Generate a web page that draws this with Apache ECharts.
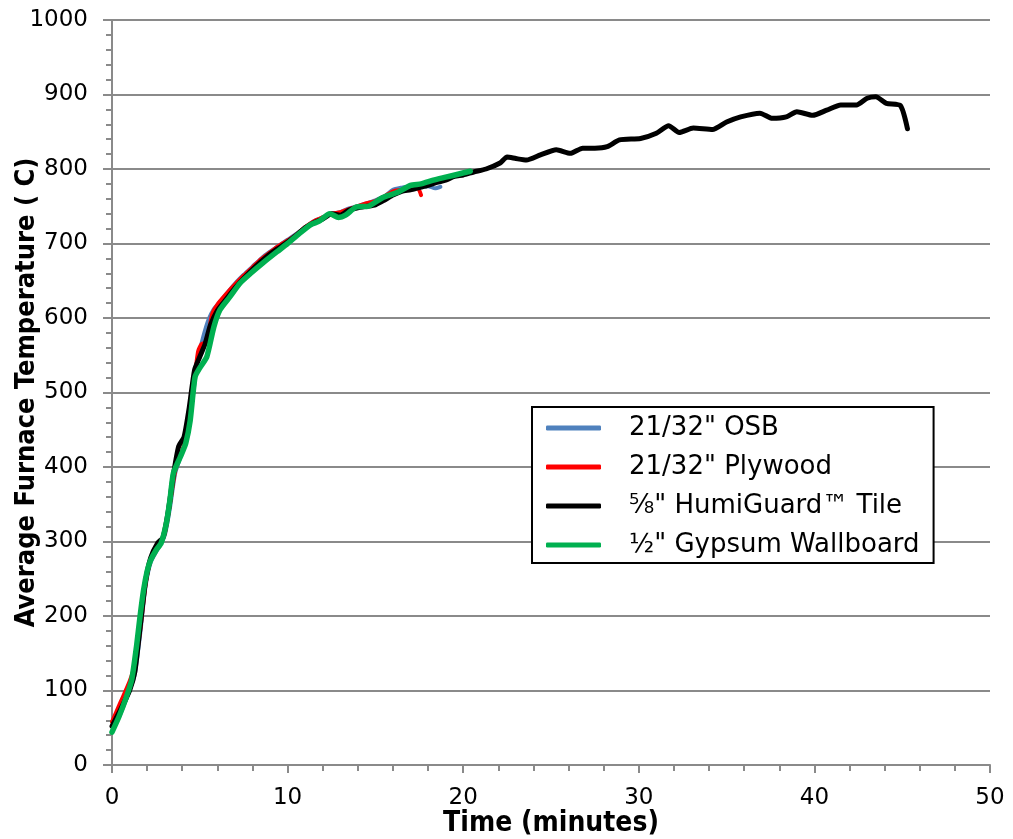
<!DOCTYPE html>
<html>
<head>
<meta charset="utf-8">
<script src="https://cdn.jsdelivr.net/npm/echarts@6/dist/echarts.min.js"></script>
<style>
	html, body {margin: 0;padding: 0;background: #fff;}
	#chart {width: 1013px;height: 839px;}
</style>
</head>
<body>
<div id="chart"></div>
<script>
	// series names (legend order)
	var seriesNames = ['21/32" OSB', '21/32" Plywood', '⅝" HumiGuard™ Tile', '½" Gypsum Wallboard'];

	// 21/32" OSB
	var osbTime = [0, 0.5, 1.0, 1.3, 1.6, 1.9, 2.2, 2.6, 3.0, 3.3, 3.6, 4.0, 4.3, 4.6, 4.9, 5.2, 5.5, 5.8, 6.1, 6.5, 7.0, 7.5, 8.0, 8.5, 9.0, 9.5, 10.0, 10.5, 11.0, 11.5, 12.0, 12.5, 13.0, 13.5, 14.0, 14.5, 15.0, 15.5, 16.0, 16.5, 17.0, 17.5, 18.0, 18.4, 18.7];
	var osbTemp = [45, 70, 100, 122, 175, 238, 272, 290, 308, 345, 392, 420, 442, 495, 545, 575, 598, 612, 620, 632, 646, 658, 669, 680, 689, 697, 705, 713, 722, 730, 735, 740, 742, 747, 750, 754, 758, 763, 772, 775, 777, 776, 777, 774, 776];

	// 21/32" Plywood
	var plyTime = [0, 0.5, 1.0, 1.3, 1.6, 1.9, 2.2, 2.6, 3.0, 3.3, 3.6, 4.0, 4.3, 4.6, 4.9, 5.1, 5.4, 5.7, 6.0, 6.5, 7.0, 7.5, 8.0, 8.5, 9.0, 9.5, 10.0, 10.5, 11.0, 11.5, 12.0, 12.5, 13.0, 13.5, 14.0, 14.5, 15.0, 15.5, 16.0, 16.5, 17.0, 17.4, 17.6];
	var plyTemp = [58, 85, 112, 135, 180, 240, 275, 292, 310, 350, 395, 422, 445, 500, 555, 565, 568, 605, 618, 632, 645, 657, 668, 679, 688, 697, 704, 712, 722, 730, 735, 740, 742, 746, 750, 754, 757, 763, 770, 772, 775, 775, 765];

	// 5/8" HumiGuard Tile
	var humiTime = [0, 0.5, 1.0, 1.3, 1.6, 1.9, 2.2, 2.6, 2.9, 3.2, 3.5, 3.8, 4.1, 4.4, 4.7, 5.0, 5.3, 5.6, 6.0, 6.5, 7.0, 7.5, 8.0, 8.5, 9.0, 9.5, 10.0, 10.5, 11.0, 11.5, 12.0, 12.5, 13.0, 13.5, 14.0, 14.5, 15.0, 15.5, 16.0, 16.5, 17.0, 17.5, 18.0, 18.5, 19.0, 19.5, 20.0, 20.6, 21.3, 22.1, 22.5, 23.0, 23.6, 24.4, 25.3, 26.1, 26.8, 27.5, 28.2, 28.9, 30.1, 31.0, 31.7, 32.3, 33.1, 34.2, 35.0, 35.8, 36.9, 37.6, 38.4, 39.0, 39.9, 40.7, 41.5, 42.4, 43.0, 43.5, 44.1, 44.9, 45.3];
	var humiTemp = [52, 75, 100, 125, 185, 245, 278, 298, 305, 340, 390, 428, 440, 480, 530, 548, 565, 590, 610, 625, 640, 653, 665, 676, 686, 694, 702, 711, 721, 728, 733, 740, 738, 745, 748, 750, 752, 758, 765, 770, 772, 775, 778, 782, 785, 790, 792, 796, 800, 808, 816, 814, 812, 819, 826, 821, 828, 828, 830, 839, 841, 848, 858, 849, 855, 853, 863, 870, 875, 868, 870, 877, 872, 879, 886, 886, 895, 897, 888, 885, 854];

	// 1/2" Gypsum Wallboard
	var gypTime = [0, 0.4, 0.8, 1.12, 1.4, 1.6, 1.8, 2.0, 2.2, 2.5, 2.8, 3.1, 3.3, 3.5, 3.9, 4.2, 4.45, 4.73, 5.0, 5.4, 5.8, 6.15, 6.7, 7.3, 7.9, 8.6, 9.4, 10.0, 10.6, 11.3, 11.8, 12.4, 12.9, 13.3, 13.9, 14.6, 15.45, 16.2, 17.0, 17.6, 18.3, 19.0, 19.7, 20.4];
	var gypTemp = [44, 65, 90, 114, 160, 200, 235, 260, 275, 288, 298, 325, 356, 392, 414, 432, 462, 521, 533, 548, 588, 611, 628, 647, 660, 674, 689, 700, 712, 725, 730, 740, 735, 738, 749, 750, 762, 768, 778, 780, 785, 789, 793, 797];

	var seriesColors = ['#4f81bd', '#ff0000', '#000000', '#00b050'];
	var lineWidths = [4, 4, 5, 5.5];

	function pairs(xs, ys) {
		return xs.map(function(x, i) { return [x, ys[i]]; });
	}

	var allData = [pairs(osbTime, osbTemp), pairs(plyTime, plyTemp), pairs(humiTime, humiTemp), pairs(gypTime, gypTemp)];

	var myChart = echarts.init(document.getElementById('chart'));
	var font = 'DejaVu Sans';
	var axisGray = '#8a8a8a';

	var option = {
		animation: false,
		backgroundColor: '#fff',
		grid: {left: 112, right: 23, top: 20, bottom: 74, containLabel: false, outerBoundsMode: 'none'},
		legend: {
			orient: 'vertical', left: 532, top: 407,
			backgroundColor: '#fff', borderColor: '#000', borderWidth: 2,
			padding: [6, 14, 3, 14],
			itemGap: 9, itemWidth: 55, itemHeight: 5, icon: 'roundRect',
			textStyle: {fontFamily: font, fontSize: 26, color: '#000', lineHeight: 30, padding: [0, 0, 0, 23]},
			data: seriesNames
		},
		xAxis: {
			type: 'value', min: 0, max: 50, interval: 10,
			name: 'Time (minutes)', nameLocation: 'middle', nameGap: 45, nameMoveOverlap: false,
			nameTextStyle: {fontFamily: 'DejaVu Sans Condensed', fontWeight: 'bold', fontSize: 28, color: '#000'},
			axisLine: {onZero: false, lineStyle: {color: axisGray, width: 2}},
			axisTick: {length: 8, lineStyle: {color: axisGray, width: 2}},
			minorTick: {show: true, splitNumber: 5, length: 6, lineStyle: {color: axisGray, width: 2}},
			axisLabel: {fontFamily: font, fontSize: 23, color: '#000', margin: 22, formatter: function(v) { return String(v); }},
			splitLine: {show: false}
		},
		yAxis: {
			type: 'value', min: 0, max: 1000, interval: 100,
			name: 'Average Furnace Temperature ( C)', nameLocation: 'middle', nameGap: 72, nameMoveOverlap: false,
			nameTextStyle: {fontFamily: 'DejaVu Sans Condensed', fontWeight: 'bold', fontSize: 27, color: '#000'},
			axisLine: {show: true, lineStyle: {color: axisGray, width: 2}},
			axisTick: {show: true, length: 9, lineStyle: {color: axisGray, width: 2}},
			minorTick: {show: true, splitNumber: 5, length: 6, lineStyle: {color: axisGray, width: 2}},
			axisLabel: {fontFamily: font, fontSize: 23, color: '#000', margin: 24, formatter: function(v) { return String(v); }},
			splitLine: {show: true, lineStyle: {color: axisGray, width: 2}}
		},
		series: seriesNames.map(function(name, i) {
			return {
				name: name, type: 'line', data: allData[i],
				showSymbol: false, symbol: 'none', smooth: 0.2,
				itemStyle: {color: seriesColors[i]},
				lineStyle: {color: seriesColors[i], width: lineWidths[i], cap: 'round', join: 'round'},
				z: 2 + i
			};
		})
	};
	myChart.setOption(option);
</script>
</body>
</html>
